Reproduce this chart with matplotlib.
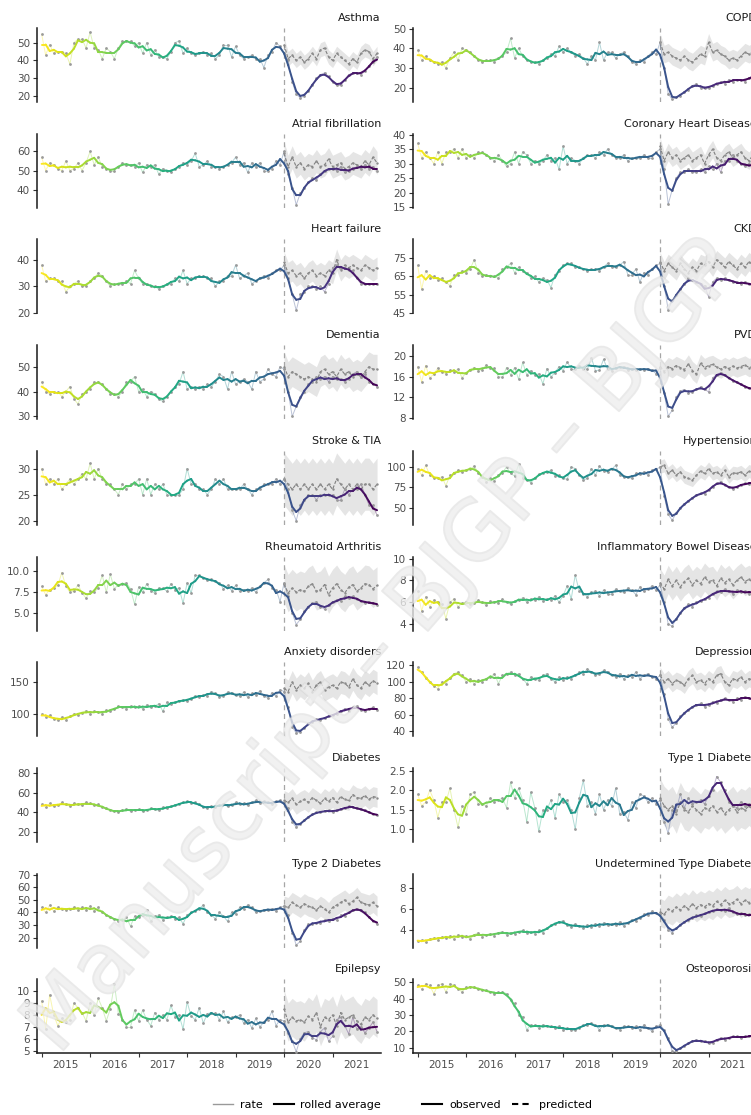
import numpy as np
import pandas as pd
import matplotlib
matplotlib.use("Agg")
import matplotlib.pyplot as plt
import matplotlib.patheffects as pe
from matplotlib.collections import LineCollection
from matplotlib.lines import Line2D
from matplotlib.ticker import FormatStrFormatter

# monthly rates Jan 2015 - Dec 2021, predicted Jan 2020 - Dec 2021
asthma_rate = [55,43,49,44,45,45,44,38,50,52,52,47,
               56,47,46,41,47,45,41,47,51,51,51,48,
               50,44,50,43,46,42,42,41,45,50,51,44,
               47,44,43,44,45,43,44,41,43,49,49,42,
               48,43,41,42,43,41,41,36,43,45,50,48,
               44,40,28,21,19,20,23,26,30,32,33,31,
               28,26,26,29,32,33,33,32,34,37,39,42]
asthma_pred = [49,41,43,40,42,39,41,44,41,46,47,42,
               40,44,42,40,38,41,39,44,46,45,41,44]

af_rate = [57,50,54,53,51,50,55,50,51,54,50,54,
           60,53,57,52,51,50,50,52,54,53,53,52,
           54,49,53,52,53,48,51,50,49,51,52,54,
           53,55,59,52,53,55,52,52,51,52,53,54,
           57,53,54,49,54,52,54,50,50,51,55,53,
           60,48,41,32,38,41,44,46,45,48,50,51,
           51,50,52,49,50,51,52,51,53,51,52,50]
af_pred = [59,52,57,52,54,51,53,52,55,52,53,56,
           52,53,54,51,52,54,53,52,55,53,57,54]

hf_rate = [38,32,33,33,32,32,28,30,31,32,30,30,
           32,33,35,34,32,30,31,31,31,32,31,36,
           33,31,31,30,30,29,30,31,31,33,32,36,
           31,33,33,34,34,33,33,30,32,32,34,34,
           38,33,34,35,31,32,33,34,33,35,36,36,
           38,33,27,21,27,28,30,30,29,30,28,31,
           37,38,37,37,36,36,33,31,31,31,31,31]
hf_pred = [39,35,36,34,35,33,35,36,34,35,34,36,
           35,40,36,38,37,38,37,36,38,37,36,37]

dementia_rate = [44,40,39,40,40,38,40,42,37,35,39,40,
                 41,44,44,43,41,39,39,38,40,44,44,46,
                 40,41,38,40,39,37,36,38,40,42,43,48,
                 41,42,41,42,41,43,42,44,47,46,41,48,
                 43,44,45,44,41,48,44,45,49,47,46,50,
                 49,40,30,34,38,40,43,44,46,45,46,44,
                 46,45,45,44,45,47,48,46,47,44,43,42]
dementia_pred = [50,46,48,47,46,45,46,45,44,48,49,47,
                 48,46,49,47,48,46,47,46,48,50,49,49]

stroke_rate = [30,27,28,27,28,26,27,28,27,28,29,28,
               31,28,30,28,27,27,26,25,27,26,27,27,
               28,25,28,25,27,26,27,25,25,25,25,26,
               30,27,27,26,26,25,26,28,27,28,26,26,
               26,26,27,26,25,26,26,27,27,27,28,27,
               28,26,22,20,23,24,25,25,24,25,25,25,
               25,24,24,26,25,26,26,27,25,23,23,21]
stroke_pred = [28,27,26,27,26,27,26,27,26,27,26,27,
               26,28,27,26,27,26,27,26,27,27,26,27]

ra_rate = [8.2,7.2,7.8,8.0,8.3,9.8,8.2,7.5,7.6,8.4,7.4,6.8,
           7.6,7.5,8.0,9.5,7.5,9.6,7.9,8.4,8.5,8.6,7.9,6.1,
           8.1,7.5,8.5,7.7,7.4,8.0,8.0,7.6,8.5,7.8,8.0,6.2,
           8.6,7.4,9.5,9.5,9.2,8.9,9.0,8.8,8.6,7.9,8.3,7.7,
           8.3,7.6,7.8,7.6,8.0,7.5,8.2,8.6,9.0,8.0,7.8,6.4,
           8.6,7.0,5.1,3.7,4.3,5.3,5.8,6.2,6.4,5.8,5.5,6.0,
           6.3,6.6,6.5,7.0,6.8,7.0,6.7,6.5,6.2,6.4,6.2,6.0]
ra_pred = [8.5,7.4,8.0,7.5,7.8,7.6,8.2,8.5,7.6,7.8,8.4,7.2,
           8.0,8.5,7.8,7.4,8.1,8.4,7.6,8.0,8.5,8.4,7.9,8.3]

anxiety_rate = [100,95,98,92,90,95,90,96,100,98,102,105,
                100,104,103,100,106,104,108,112,110,108,112,110,
                112,108,114,110,112,116,104,118,115,118,120,122,
                120,124,128,126,130,128,135,132,126,128,134,132,
                130,128,134,126,132,130,136,128,125,133,128,138,
                135,110,80,70,72,78,85,88,92,90,94,96,
                98,100,104,108,105,110,112,106,104,108,110,106]
anxiety_pred = [140,135,150,138,145,140,148,135,145,150,138,142,
                145,140,150,148,142,155,145,140,150,145,152,148]

diabetes_rate = [48,45,49,46,47,50,48,46,49,48,47,50,
                 49,47,48,45,44,42,41,40,42,43,41,42,
                 43,41,42,44,43,42,45,44,46,47,48,50,
                 51,49,50,48,45,44,46,45,47,48,46,47,
                 50,48,49,47,50,52,49,51,50,48,51,52,
                 50,44,30,25,28,32,35,38,40,40,41,42,
                 40,42,43,44,46,45,44,43,42,40,38,37]
diabetes_pred = [52,50,54,48,51,53,50,55,52,49,54,51,
                 55,50,56,53,52,58,55,54,57,53,56,55]

t2d_rate = [44,40,46,41,44,43,42,43,44,42,44,42,
            45,41,44,40,38,36,35,33,34,36,29,37,
            36,38,42,33,37,38,34,36,37,35,36,31,
            38,40,41,43,46,40,38,35,40,37,33,40,
            39,44,43,46,44,40,41,42,42,43,41,44,
            45,38,24,14,17,26,31,31,32,32,34,33,
            35,34,38,37,40,42,43,42,40,36,33,31]
t2d_pred = [45,44,48,46,44,47,45,44,42,45,43,40,
            44,46,48,50,47,49,52,48,47,46,48,45]

epilepsy_rate = [9.2,6.8,9.7,8.0,7.1,7.7,7.4,7.6,9.0,8.6,8.2,7.5,
                 9.0,8.0,9.4,8.6,7.5,8.5,10.6,8.1,7.6,7.0,7.0,8.4,
                 7.5,8.4,7.6,7.1,8.2,7.6,8.0,7.6,8.8,7.8,8.0,6.8,
                 9.1,7.9,7.6,8.6,7.3,8.1,8.2,8.2,7.6,8.3,7.4,7.8,
                 7.8,8.0,7.3,7.6,6.9,7.7,7.0,7.4,7.6,8.3,7.1,7.6,
                 7.5,6.5,5.8,4.9,6.0,6.5,6.6,6.1,5.9,6.6,6.9,5.8,
                 6.2,7.6,7.8,7.1,6.4,7.8,6.8,7.0,6.5,6.9,7.4,6.6]
epilepsy_pred = [8.5,7.4,7.8,7.5,7.6,7.4,7.9,7.6,8.2,7.0,7.8,7.6,
                 8.0,7.1,8.2,7.6,7.8,8.0,7.5,7.2,7.8,7.6,8.0,7.7]

copd_rate = [39,34,36,34,33,32,33,30,35,38,34,40,
             39,38,36,34,33,34,34,33,35,36,38,45,
             35,40,36,34,33,33,32,34,35,37,36,41,
             38,40,38,36,37,35,32,36,34,43,34,38,
             38,35,37,38,36,33,32,34,33,36,38,37,
             43,30,17,14,15,16,18,19,21,22,20,20,
             20,21,22,23,22,24,23,24,24,23,25,26]
copd_pred = [43,37,38,36,35,34,36,34,33,35,37,36,
             43,38,39,37,36,34,35,34,36,38,37,38]

chd_rate = [37,32,34,32,30,34,30,34,34,35,32,35,
            32,33,32,34,34,33,32,31,33,31,29,30,
            34,30,34,33,30,31,30,31,33,31,32,28,
            36,30,32,31,30,32,33,33,32,34,33,35,
            33,32,32,33,31,32,32,32,33,32,32,34,
            35,28,16,21,25,27,27,28,27,27,28,27,
            29,28,30,27,31,31,33,31,30,29,30,29]
chd_pred = [36,31,34,32,33,31,32,33,31,32,33,30,
            33,35,32,31,33,34,32,33,34,32,31,33]

ckd_rate = [71,58,68,64,65,63,64,62,60,66,66,68,
            67,69,74,67,65,66,65,65,64,69,70,72,
            67,70,68,67,64,65,62,64,63,59,66,68,
            71,72,72,70,70,69,68,69,69,68,70,72,
            70,70,71,73,66,66,69,62,67,66,69,71,
            72,60,47,52,55,58,61,64,63,62,61,60,
            54,62,64,63,64,63,62,62,61,62,61,60]
ckd_pred = [73,68,72,70,68,72,69,67,70,68,72,71,
            73,70,74,72,70,73,71,69,72,70,73,71]

pvd_rate = [18.0,15.0,18.2,15.8,16.5,17.7,17.0,16.6,17.3,17.0,17.5,15.8,
            16.8,17.4,17.8,17.2,17.4,18.3,17.7,17.7,16.0,15.9,17.8,16.4,
            17.8,15.5,18.8,16.4,17.2,16.3,16.6,14.6,17.6,16.0,16.8,18.0,
            17.2,18.9,17.6,17.6,18.2,17.6,17.5,19.7,17.2,17.3,19.4,17.5,
            17.2,17.8,17.9,18.0,17.3,17.6,17.4,17.5,17.4,17.6,17.3,16.6,
            17.8,12.8,8.3,9.4,12.0,13.2,13.5,12.9,13.0,13.6,14.0,13.6,
            13.0,15.8,16.4,16.8,16.4,15.7,15.2,15.0,14.5,14.0,13.8,13.5]
pvd_pred = [18.0,17.0,18.0,17.6,18.2,17.8,17.4,18.5,17.2,16.5,18.6,17.8,
            18.2,18.4,17.9,17.5,18.0,17.6,18.1,17.7,18.0,18.3,17.8,18.0]

htn_rate = [98,90,102,90,86,86,88,77,90,92,96,94,
            96,97,101,93,88,82,86,83,90,93,100,92,
            89,103,87,84,81,86,91,93,94,96,89,90,
            86,85,100,98,90,84,86,98,90,101,95,94,
            97,102,90,88,88,86,92,91,94,90,96,97,
            100,65,42,35,44,50,55,58,62,66,68,67,
            72,76,80,82,78,75,73,76,78,80,79,81]
htn_pred = [100,102,92,96,90,94,88,86,84,90,95,92,
            98,92,94,90,96,88,93,92,94,90,95,93]

ibd_rate = [7.0,5.2,6.5,5.6,6.2,6.0,5.8,4.5,6.0,6.3,5.6,5.9,
            6.0,5.8,5.9,6.2,6.0,5.7,6.1,6.0,5.9,6.3,6.0,5.8,
            6.1,6.2,6.4,6.0,6.3,6.2,6.5,6.1,6.3,6.2,6.6,6.0,
            6.6,7.5,6.3,8.5,7.0,6.8,6.5,6.9,7.0,6.6,7.1,6.8,
            6.8,7.2,7.0,6.9,7.3,7.1,6.7,7.4,7.0,7.2,7.5,7.1,
            7.6,6.0,4.0,3.8,4.5,5.0,5.5,5.8,5.6,6.0,6.1,6.3,
            6.4,6.8,7.0,6.9,7.2,7.0,6.8,7.1,6.9,7.0,6.8,7.0]
ibd_pred = [7.8,7.2,8.1,7.5,8.0,7.4,7.9,8.2,7.6,8.0,7.7,8.3,
            7.9,8.0,7.5,8.2,7.8,8.1,7.6,8.0,8.3,7.9,8.1,7.8]

depression_rate = [118,112,105,100,95,92,100,98,105,110,112,108,
                   100,104,98,102,100,104,106,110,98,108,110,112,
                   108,110,104,98,106,104,102,108,110,104,100,106,
                   102,106,104,108,112,110,116,112,108,110,114,112,
                   108,106,110,104,108,106,112,104,108,110,106,104,
                   108,85,55,45,50,58,62,66,70,72,74,70,
                   72,76,74,78,80,78,76,80,78,82,80,78]
depression_pred = [108,100,104,98,102,100,96,104,108,100,102,98,
                   104,100,108,110,100,96,104,102,106,100,104,102]

t1d_rate = [1.9,1.6,1.7,2.0,1.75,1.3,1.7,1.7,2.05,1.5,1.05,1.6,
            1.4,1.9,1.95,1.65,1.65,1.6,1.8,1.7,1.75,1.8,1.55,2.2,
            1.8,2.05,1.75,1.2,1.95,1.55,0.95,1.5,1.5,1.75,1.3,1.9,
            1.7,1.75,1.5,1.0,1.8,2.25,1.6,1.7,1.4,1.9,1.5,1.75,
            1.6,2.05,1.4,1.45,1.25,1.7,1.55,1.9,1.85,1.7,1.8,1.65,
            1.75,1.2,0.9,1.5,1.5,1.9,1.55,1.8,1.65,1.7,1.75,1.65,
            1.85,2.0,2.35,2.2,2.0,1.7,1.6,1.55,1.7,1.6,1.65,1.6]
t1d_pred = [1.8,1.6,1.5,1.6,1.4,1.7,1.5,1.45,1.6,1.5,1.4,1.55,
            1.5,1.6,1.45,1.55,1.4,1.5,1.6,1.45,1.55,1.5,1.6,1.5]

utd_rate = [3.0,3.1,2.9,3.2,3.3,3.1,3.4,3.3,3.5,3.2,3.6,3.4,
            3.5,3.2,3.6,3.8,3.4,3.6,3.7,3.5,3.8,3.9,3.6,3.8,
            3.7,3.9,4.0,3.8,3.9,3.7,4.0,3.8,4.2,4.5,4.6,4.8,
            4.9,4.5,4.3,4.6,4.4,4.2,4.5,4.3,4.6,4.4,4.7,4.5,
            4.6,4.5,4.8,4.4,4.7,5.0,4.9,5.2,5.5,5.4,5.8,5.6,
            5.5,5.0,4.0,3.8,4.2,4.5,4.8,5.0,5.2,5.4,5.3,5.6,
            5.7,5.8,6.0,5.9,5.8,6.1,5.7,5.5,5.6,5.4,5.5,5.3]
utd_pred = [5.7,5.5,6.0,5.8,6.2,5.9,6.3,6.0,6.5,6.1,6.4,6.2,
            6.5,6.3,6.7,6.4,6.8,6.5,6.6,6.9,6.5,6.8,6.6,6.9]

osteo_rate = [48,46,49,48,43,48,49,44,49,48,46,44,
              47,47,47,46,45,45,44,43,44,44,43,39,
              37,30,29,21,24,24,22,24,23,23,22,23,
              21,22,21,21,22,24,24,25,24,21,24,24,
              23,22,21,23,23,22,23,21,24,22,20,23,
              24,21,16,8,8,10,11,13,14,15,14,14,
              13,13,15,16,15,16,17,17,16,17,17,17]

# (title, rate, predicted, interval half width)
left_panels = [
    ("Asthma", asthma_rate, asthma_pred, 4),
    ("Atrial fibrillation", af_rate, af_pred, 6),
    ("Heart failure", hf_rate, hf_pred, 4),
    ("Dementia", dementia_rate, dementia_pred, 6),
    ("Stroke & TIA", stroke_rate, stroke_pred, 5),
    ("Rheumatoid Arthritis", ra_rate, ra_pred, 2.2),
    ("Anxiety disorders", anxiety_rate, anxiety_pred, 18),
    ("Diabetes", diabetes_rate, diabetes_pred, 10),
    ("Type 2 Diabetes", t2d_rate, t2d_pred, 8),
    ("Epilepsy", epilepsy_rate, epilepsy_pred, 1.6),
]
right_panels = [
    ("COPD", copd_rate, copd_pred, 4.5),
    ("Coronary Heart Disease", chd_rate, chd_pred, 3),
    ("CKD", ckd_rate, ckd_pred, 5),
    ("PVD", pvd_rate, pvd_pred, 1.8),
    ("Hypertension", htn_rate, htn_pred, 8),
    ("Inflammatory Bowel Disease", ibd_rate, ibd_pred, 1.3),
    ("Depression", depression_rate, depression_pred, 10),
    ("Type 1 Diabetes", t1d_rate, t1d_pred, 0.5),
    ("Undetermined Type Diabetes", utd_rate, utd_pred, 1.3),
    ("Osteoporosis", osteo_rate, None, 0),
]

left_axes_cfg = [
    ((16.6, 58.3), [20, 30, 40, 50], "%g"),
    ((30.5, 69.3), [40, 50, 60], "%g"),
    ((19.9, 47.6), [20, 30, 40], "%g"),
    ((28.9, 58.7), [30, 40, 50], "%g"),
    ((19.2, 33.4), [20, 25, 30], "%g"),
    ((3.0, 11.7), [5.0, 7.5, 10.0], "%.1f"),
    ((65, 181), [100, 150], "%g"),
    ((10, 85), [20, 40, 60, 80], "%g"),
    ((12, 71), [20, 30, 40, 50, 60, 70], "%g"),
    ((4.77, 11.0), [5, 6, 7, 8, 9, 10], "%g"),
]
right_axes_cfg = [
    ((12.7, 50.3), [20, 30, 40, 50], "%g"),
    ((14.8, 40.3), [15, 20, 25, 30, 35, 40], "%g"),
    ((45, 85), [45, 55, 65, 75], "%g"),
    ((7.7, 22.2), [8, 12, 16, 20], "%g"),
    ((29.4, 119.7), [50, 75, 100], "%g"),
    ((3.4, 10.2), [4, 6, 8, 10], "%g"),
    ((34, 124), [40, 60, 80, 100, 120], "%g"),
    ((0.68, 2.57), [1.0, 1.5, 2.0, 2.5], "%.1f"),
    ((2.4, 9.3), [4, 6, 8], "%g"),
    ((6.7, 51.7), [10, 20, 30, 40, 50], "%g"),
]

months = 2015 + np.arange(84) / 12.0
pred_x = months[60:]
cmap = plt.get_cmap("viridis_r")
norm = plt.Normalize(months[0], months[-1])


def gradient_line(ax, x, y, lw, alpha, z):
    pts = np.column_stack([x, y])
    segs = np.stack([pts[:-1], pts[1:]], axis=1)
    cols = cmap(norm((x[:-1] + x[1:]) / 2))
    lc = LineCollection(segs, colors=cols, linewidths=lw, alpha=alpha,
                        capstyle="round", joinstyle="round", zorder=z)
    ax.add_collection(lc)


W, H = 751, 1115
fig = plt.figure(figsize=(W / 100, H / 100), dpi=100)

for col, (panels, cfgs) in enumerate([(left_panels, left_axes_cfg),
                                      (right_panels, right_axes_cfg)]):
    x0 = 37 if col == 0 else 413
    for i, ((title, rate, pred, hw), (ylim, yt, fmt)) in enumerate(zip(panels, cfgs)):
        top = 28 + 105.7 * i
        ax = fig.add_axes([x0 / W, 1 - (top + 74) / H, 344 / W, 74 / H])
        rate = np.array(rate, dtype=float)
        rolled = pd.Series(rate).rolling(3, center=True, min_periods=1).mean().values

        if pred is not None:
            pred = np.array(pred, dtype=float)
            ax.fill_between(pred_x, pred - hw, pred + hw, color="#d4d4d4",
                            alpha=0.6, lw=0, zorder=1)
            ax.plot(pred_x, pred, color="#808080", lw=0.8, ls=(0, (3, 1.5)), zorder=3)
            ax.scatter(pred_x, pred, s=3, color="#8c8c8c", lw=0, zorder=3)
        ax.axvline(2020.0, color="#a6a6a6", lw=0.9, ls=(0, (4, 3)), zorder=2)

        gradient_line(ax, months, rate, 0.7, 0.35, 2)
        ax.scatter(months, rate, s=4, color="#9a9a9a", lw=0, zorder=3)
        gradient_line(ax, months, rolled, 1.4, 1.0, 4)

        ax.set_xlim(2014.905, 2021.998)
        ax.set_ylim(*ylim)
        ax.set_yticks(yt)
        ax.yaxis.set_major_formatter(FormatStrFormatter(fmt))
        ax.tick_params(axis="y", length=3, width=0.8, color="#333333",
                       labelsize=7.5, labelcolor="#4d4d4d", pad=2)
        for s in ["top", "right"]:
            ax.spines[s].set_visible(False)
        ax.spines["left"].set_linewidth(1.1)
        ax.spines["left"].set_color("#1a1a1a")
        ax.set_title(title, loc="right", fontsize=8, pad=5, color="#1a1a1a")

        if i == len(panels) - 1:
            ax.spines["bottom"].set_linewidth(1.1)
            ax.spines["bottom"].set_color("#1a1a1a")
            ax.set_xticks(np.arange(2015, 2022))
            ax.set_xticklabels([])
            ax.set_xticks(np.arange(2015, 2022) + 0.5, minor=True)
            ax.set_xticklabels([str(y) for y in range(2015, 2022)], minor=True)
            ax.tick_params(axis="x", which="major", length=3, width=0.8, color="#333333")
            ax.tick_params(axis="x", which="minor", length=0, labelsize=7.5,
                           labelcolor="#4d4d4d", pad=5)
        else:
            ax.spines["bottom"].set_visible(False)
            ax.set_xticks([])

# legends
h1 = [Line2D([], [], color="#999999", lw=1.0), Line2D([], [], color="black", lw=1.5)]
fig.legend(h1, ["rate", "rolled average"], loc="center", ncol=2, frameon=False,
           fontsize=8, handlelength=1.8, columnspacing=1.0, handletextpad=0.6,
           bbox_to_anchor=(297 / W, 1 - 1105 / H))
h2 = [Line2D([], [], color="black", lw=1.5), Line2D([], [], color="black", lw=1.5, ls=(0, (3, 2)))]
fig.legend(h2, ["observed", "predicted"], loc="center", ncol=2, frameon=False,
           fontsize=8, handlelength=1.8, columnspacing=1.0, handletextpad=0.6,
           bbox_to_anchor=(507 / W, 1 - 1105 / H))

# manuscript watermark
fig.text(0.51, 0.42, "Manuscript \u2013 BJGP \u2013 BJGP", fontsize=60, rotation=49,
         ha="center", va="center", color="#eeeeee", alpha=0.6, zorder=10,
         path_effects=[pe.withStroke(linewidth=1.5, foreground="#d2d2d2", alpha=0.45)])

fig.savefig("out.png", dpi=100)
